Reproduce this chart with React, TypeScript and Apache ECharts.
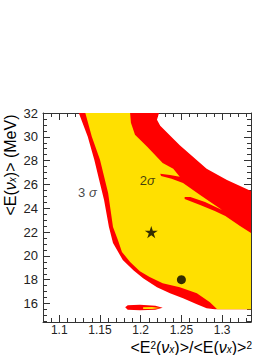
import React, { useEffect, useRef } from "react";
import * as echarts from "echarts";

// Axis ranges and ticks
const X_MIN = 1.08;
const X_MAX = 1.3355;
const Y_MIN = 14.45;
const Y_MAX = 32;
const xMajor = [1.1, 1.15, 1.2, 1.25, 1.3];
const yMajor = [16, 18, 20, 22, 24, 26, 28, 30, 32];

// 3 sigma (red) allowed region outline
const red3Sigma: number[][] = [
  [1.124, 32], [1.2225, 32], [1.22, 31.44], [1.224, 30.93], [1.248, 29.3],
  [1.281, 27.31], [1.306, 26.38], [1.3355, 25.46], [1.3355, 15.52], [1.291, 15.52],
  [1.281, 15.6], [1.269, 15.94], [1.252, 16.45], [1.236, 16.87], [1.22, 17.37],
  [1.203, 18.13], [1.191, 18.8], [1.178, 19.65], [1.166, 21.08], [1.161, 22.43],
  [1.155, 24.7], [1.149, 26.38], [1.143, 28.07], [1.135, 30.0],
];

// 2 sigma (yellow) allowed region outline
const yellow2Sigma: number[][] = [
  [1.132, 32], [1.187, 32], [1.188, 31.18], [1.193, 30.17], [1.208, 29.16],
  [1.227, 27.81], [1.24, 27.31], [1.248, 26.64], [1.236, 26.8], [1.224, 26.89],
  [1.225, 26.72], [1.238, 26.47], [1.252, 26.13], [1.273, 25.12], [1.3, 23.86],
  [1.279, 24.53], [1.261, 24.95], [1.254, 24.95], [1.254, 24.78], [1.273, 24.28],
  [1.291, 23.77], [1.304, 23.35], [1.322, 22.51], [1.3355, 21.92], [1.3355, 15.52],
  [1.294, 15.52], [1.285, 16.11], [1.269, 16.87], [1.248, 17.37], [1.227, 17.71],
  [1.211, 18.22], [1.199, 18.72], [1.187, 19.48], [1.177, 20.32], [1.172, 21.33],
  [1.166, 22.43], [1.16, 25.29], [1.15, 28.07], [1.14, 30.0],
];

// small island near the bottom
const redIsland: number[][] = [
  [1.181, 15.69], [1.184, 15.86], [1.199, 15.9], [1.218, 15.82], [1.227, 15.65],
  [1.218, 15.48], [1.199, 15.44], [1.184, 15.48],
];
const yellowIsland: number[][] = [
  [1.203, 15.69], [1.214, 15.71], [1.224, 15.63], [1.214, 15.54], [1.203, 15.55],
];

// markers
const bestFit: number[][] = [[1.213, 22.0]];
const modelPoint: number[][] = [[1.25, 18.0]];
const sigmaLabels: { value: number[]; text: string }[] = [
  { value: [1.1346, 25.29], text: "{n|3 }{g|σ}" },
  { value: [1.2081, 26.3], text: "{n|2}{g|σ}" },
];

const RED = "#ff0000";
const YELLOW = "#ffe000";
const AXIS = "#333333";
const FONT = "Liberation Sans, Arial, sans-serif";

const starPath =
  "path://M0,-1L0.2245,-0.309L0.951,-0.309L0.3633,0.118L0.5878,0.809L0,0.382L-0.5878,0.809L-0.3633,0.118L-0.951,-0.309L-0.2245,-0.309Z";

function minorValues(majors: number[], lo: number, hi: number, step: number) {
  const out: number[] = [];
  const n = Math.round((hi - lo) / step);
  for (let i = 0; i <= n; i++) {
    const v = Math.round((lo + i * step) * 1000) / 1000;
    if (!majors.some((m) => Math.abs(m - v) < 1e-6)) out.push(v);
  }
  return out;
}

function polygonSeries(pts: number[][], color: string) {
  return {
    type: "custom",
    coordinateSystem: "cartesian2d",
    xAxisIndex: 0,
    yAxisIndex: 0,
    silent: true,
    data: pts,
    encode: { x: 0, y: 1 },
    renderItem: (params: any, api: any) => {
      if (params.dataIndex !== 0) return null;
      const points = pts.map((p) => api.coord(p));
      return { type: "polygon", shape: { points }, style: { fill: color, stroke: null } };
    },
  };
}

export default function App() {
  const ref = useRef<HTMLDivElement>(null);
  useEffect(() => {
    document.body.style.margin = "0";
    if (!ref.current) return;
    const chart = echarts.init(ref.current, undefined, { renderer: "svg" });
    const xMinor = minorValues(xMajor, 1.09, 1.33, 0.01);
    const yMinor = minorValues(yMajor, 14.5, 31.5, 0.5);

    const xAxisBase = { type: "value", min: X_MIN, max: X_MAX, gridIndex: 0, splitLine: { show: false } };
    const yAxisBase = { type: "value", min: Y_MIN, max: Y_MAX, gridIndex: 0, splitLine: { show: false } };
    const line = { show: true, lineStyle: { color: AXIS, width: 1 } };
    const noLine = { show: false };
    const tick = (vals: number[], len: number) => ({
      show: true, inside: true, length: len, customValues: vals, lineStyle: { color: AXIS, width: 1 },
    });
    const noLabel = { show: false };

    const rich = {
      n: { fontFamily: FONT, fontSize: 16, color: "#111", lineHeight: 14, verticalAlign: "middle" },
      g: { fontFamily: FONT, fontSize: 16, fontStyle: "italic", color: "#111", lineHeight: 14, verticalAlign: "middle" },
      sub: { fontFamily: FONT, fontSize: 10, fontStyle: "italic", color: "#111", lineHeight: 14, verticalAlign: "bottom" },
      sup: { fontFamily: FONT, fontSize: 10, color: "#111", lineHeight: 14, verticalAlign: "top" },
    };

    chart.setOption({
      animation: false,
      grid: { left: 43, top: 113, right: 23, bottom: 33, outerBoundsMode: "none", containLabel: false },
      xAxis: [
        {
          ...xAxisBase, position: "bottom", axisLine: line, axisTick: tick(xMajor, 7),
          axisLabel: {
            show: true, customValues: xMajor, margin: 2, fontSize: 12, lineHeight: 12, fontFamily: FONT, color: "#222",
            formatter: (v: number) => String(Math.round(v * 1000) / 1000),
          },
        },
        { ...xAxisBase, position: "bottom", axisLine: noLine, axisTick: tick(xMinor, 4), axisLabel: noLabel },
        { ...xAxisBase, position: "top", axisLine: line, axisTick: tick(xMajor, 7), axisLabel: noLabel },
        { ...xAxisBase, position: "top", axisLine: noLine, axisTick: tick(xMinor, 4), axisLabel: noLabel },
      ],
      yAxis: [
        {
          ...yAxisBase, position: "left", axisLine: line, axisTick: tick(yMajor, 7),
          axisLabel: { show: true, customValues: yMajor, margin: 5, fontSize: 13, fontFamily: FONT, color: "#222" },
        },
        { ...yAxisBase, position: "left", axisLine: noLine, axisTick: tick(yMinor, 4), axisLabel: noLabel },
        { ...yAxisBase, position: "right", axisLine: line, axisTick: tick(yMajor, 7), axisLabel: noLabel },
        { ...yAxisBase, position: "right", axisLine: noLine, axisTick: tick(yMinor, 4), axisLabel: noLabel },
      ],
      series: [
        polygonSeries(red3Sigma, RED),
        polygonSeries(yellow2Sigma, YELLOW),
        polygonSeries(redIsland, RED),
        polygonSeries(yellowIsland, YELLOW),
        {
          type: "scatter", data: bestFit, symbol: starPath, symbolSize: [13, 12.4],
          itemStyle: { color: "#000" }, silent: true,
        },
        {
          type: "scatter", data: modelPoint, symbol: "circle", symbolSize: 9,
          itemStyle: { color: "#000" }, silent: true,
        },
        {
          type: "scatter", silent: true, symbolSize: 0,
          data: sigmaLabels.map((s) => ({ value: s.value, text: s.text })),
          label: {
            show: true, position: "inside",
            formatter: (p: any) => p.data.text,
            rich: {
              n: { fontFamily: FONT, fontSize: 13, color: "#111" },
              g: { fontFamily: FONT, fontSize: 13, fontStyle: "italic", color: "#111" },
            },
          },
        },
      ],
      graphic: [
        {
          type: "text", x: 10, y: 165, rotation: Math.PI / 2,
          style: {
            text: "{n|<E(}{g|ν}{sub|x}{n|)> (MeV)}",
            rich, align: "center", verticalAlign: "middle", textAlign: "center", textVerticalAlign: "middle",
          },
        },
        {
          type: "text", x: 252, y: 347,
          style: {
            text: "{n|<E}{sup|2}{n|(}{g|ν}{sub|x}{n|)>/<E(}{g|ν}{sub|x}{n|)>}{sup|2}",
            rich, align: "right", verticalAlign: "middle", textAlign: "right", textVerticalAlign: "middle",
          },
        },
      ],
    });
    return () => chart.dispose();
  }, []);
  return <div ref={ref} style={{ width: 274, height: 355, position: "absolute", left: 0, top: 0 }} />;
}
